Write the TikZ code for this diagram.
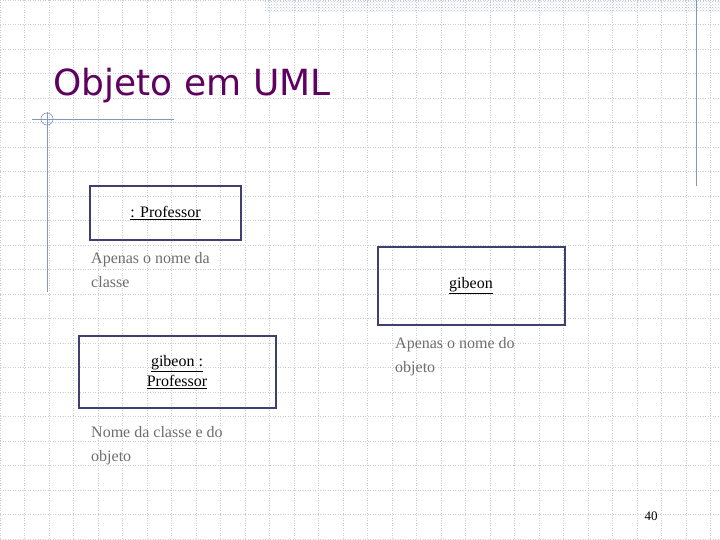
\documentclass[tikz,border=0pt]{standalone}
\usepackage{fontspec}
\setmainfont{Liberation Serif}
\newfontfamily\titlefont{DejaVu Sans}
\usetikzlibrary{patterns}
\definecolor{titleCol}{RGB}{96, 0, 96}
\definecolor{boxCol}{RGB}{64, 64, 112}
\definecolor{noteCol}{RGB}{110, 110, 110}
\definecolor{lineCol}{RGB}{130, 150, 190}
\definecolor{gridCol}{RGB}{200, 205, 212}
\tikzset{myGrid/.style={color=gridCol, line width=0.5pt, dotted}}
\tikzset{objBox/.style={draw=boxCol, line width=2pt, align=center, font=\fontsize{16}{20}\selectfont}}
\tikzset{noteText/.style={text=noteCol, align=left, anchor=north west, inner sep=0pt, font=\fontsize{16}{24}\selectfont}}
\begin{document}
\begin{tikzpicture}[x=1pt,y=-1pt]
        \useasboundingbox (0,0) rectangle (720,540);
		\fill[white](0,0) rectangle (720,540);
		\foreach \i in {0,...,29} \draw[myGrid](\i*24.5,0)--(\i*24.5,540);
		\foreach \j in {0,...,22} \draw[myGrid](0,\j*24.5)--(720,\j*24.5);
		\fill[pattern=crosshatch dots, pattern color=lineCol!60](265,0) rectangle (720,12);
		\draw[lineCol, line width=1pt](696,0)--(696,186);
		\draw[lineCol, line width=0.8pt](32,119)--(174,119);
		\draw[lineCol, line width=0.8pt](47,112)--(47,292);
		\draw[lineCol, line width=0.6pt](47,119) circle [radius=6];
		\node[anchor=west, text=titleCol, font=\titlefont\fontsize{36}{40}\selectfont] (title) at (50,86) {Objeto em UML};
		% objects
		\node[objBox, minimum width=151, minimum height=54] (prof) at (165.5,213) {\underline{: Professor}};
		\node[objBox, minimum width=187, minimum height=78] (gib) at (471,285.5) {\underline{gibeon}};
		\node[objBox, minimum width=197, minimum height=72] (gibprof) at (177,372) {\underline{gibeon :}\\\underline{Professor}};
		% notes
		\node[noteText] (n1) at (91,252) {Apenas o nome da\\classe};
		\node[noteText] (n2) at (395,337) {Apenas o nome do\\objeto};
		\node[noteText] (n3) at (91,426) {Nome da classe e do\\objeto};
		\node[font=\fontsize{13}{15}\selectfont] (page) at (651,516) {40};
	\end{tikzpicture}
\end{document}
